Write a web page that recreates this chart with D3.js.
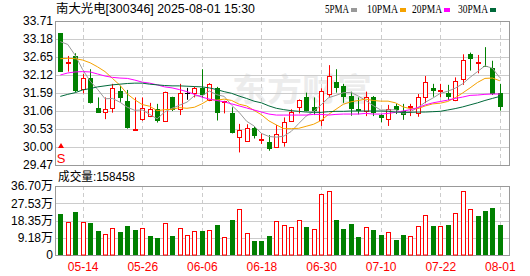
<!DOCTYPE html>
<html>
<head>
<meta charset="utf-8">
<script src="https://cdn.jsdelivr.net/npm/d3@7"></script>
<style>
body { margin: 0; background: #fff; }
text { font-family: "Liberation Sans", "Noto Sans CJK SC", sans-serif; }
</style>
</head>
<body>
<div id="kline_area"></div>
<script>
// trading days shown
const dates = ["05-09","05-12","05-13","05-14","05-15","05-16","05-19","05-20","05-21","05-22","05-23","05-26","05-27","05-28","05-29","05-30",
  "06-03","06-04","06-05","06-06","06-09","06-10","06-11","06-12","06-13","06-16","06-17","06-18","06-19","06-20","06-23","06-24","06-25","06-26","06-27","06-30",
  "07-01","07-02","07-03","07-04","07-07","07-08","07-09","07-10","07-11","07-14","07-15","07-16","07-17","07-18","07-21","07-22","07-23","07-24","07-25","07-28","07-29","07-30","07-31",
  "08-01"];

const open  = [33.35,32.46,32.68,31.70,32.02,31.14,31.03,31.14,31.65,31.35,30.52,30.83,30.92,31.11,30.77,31.46,31.11,31.58,31.58,31.73,
  31.38,31.73,31.33,31.01,30.30,30.19,30.55,30.23,30.14,30.01,30.16,30.78,31.17,31.46,31.17,30.80,31.56,31.92,31.80,31.50,
  31.11,31.07,31.46,30.94,30.82,31.21,31.07,31.19,30.99,31.46,31.73,31.67,31.60,31.38,31.99,32.74,32.50,32.38,32.32,31.58];
const high  = [33.35,32.68,32.76,32.15,32.29,31.46,31.46,31.86,31.80,31.68,31.46,31.46,31.30,31.27,31.63,31.48,31.86,31.74,31.78,32.29,
  31.88,31.77,31.36,31.17,30.68,30.67,30.61,30.40,30.35,30.65,30.87,31.11,31.40,31.60,31.46,31.73,32.41,32.29,31.86,31.63,
  31.46,31.63,31.50,30.97,31.24,31.27,31.27,31.27,31.56,32.09,31.86,31.86,31.83,32.05,32.73,32.78,32.71,32.94,32.54,31.86];
const low   = [32.22,32.22,31.62,31.58,31.28,31.01,30.82,31.01,31.33,30.54,30.52,30.77,30.88,30.72,30.75,31.06,30.94,31.39,31.46,31.45,
  31.35,30.78,30.99,30.40,29.84,30.16,30.25,30.09,29.89,29.99,30.01,30.76,30.99,31.05,30.94,30.62,31.48,31.60,31.30,30.92,
  30.96,30.91,30.91,30.73,30.62,30.97,30.80,30.91,30.89,31.29,31.48,31.46,31.38,31.35,31.83,32.25,32.17,32.36,31.53,31.07];
const close = [32.22,32.51,31.65,32.02,31.30,31.01,31.11,31.73,31.45,30.57,30.54,31.14,31.11,30.77,31.61,31.09,31.58,31.58,31.73,31.53,
  31.85,31.01,31.35,30.40,30.50,30.55,30.32,30.25,29.94,30.37,30.73,31.02,31.38,31.07,31.07,31.65,32.09,31.73,31.48,31.11,
  31.07,31.46,30.99,30.84,31.11,31.09,30.94,31.21,31.46,31.92,31.65,31.68,31.48,31.94,32.56,32.59,32.51,32.36,31.56,31.19];

// volume, unit 万
const volume = [21.8,17.4,22.9,17.4,17.0,12.8,11.0,14.2,12.2,15.4,13.3,14.2,10.1,9.0,16.8,10.1,14.2,10.5,12.6,12.8,
  13.1,16.0,9.4,18.6,24.3,11.5,7.4,7.4,10.1,17.9,15.9,14.7,18.4,14.9,13.7,32.3,33.9,18.6,13.8,16.5,
  9.6,14.7,13.3,10.6,12.1,8.0,10.6,9.9,15.3,21.1,15.4,15.4,16.0,22.2,33.9,24.3,20.7,23.4,25.0,15.85];

// moving averages
const ma5  = [33.10,33.02,32.70,32.28,31.94,31.70,31.42,31.43,31.32,31.17,31.08,31.09,30.96,30.83,31.03,31.14,31.23,31.32,31.51,31.50,
  31.65,31.54,31.49,31.23,31.02,30.76,30.62,30.40,30.31,30.29,30.32,30.46,30.69,30.91,31.05,31.24,31.45,31.52,31.60,31.61,
  31.50,31.37,31.22,31.09,31.09,31.10,30.99,31.04,31.16,31.32,31.44,31.58,31.64,31.73,31.86,32.05,32.22,32.39,32.32,32.04];
const ma10 = [32.60,32.61,32.60,32.56,32.48,32.36,32.22,32.02,31.82,31.56,31.39,31.25,31.20,31.07,31.10,31.11,31.16,31.14,31.17,31.27,
  31.40,31.38,31.41,31.37,31.26,31.21,31.08,30.95,30.77,30.65,30.54,30.54,30.55,30.61,30.67,30.78,30.96,31.11,31.26,31.33,
  31.37,31.41,31.37,31.35,31.35,31.30,31.18,31.13,31.13,31.21,31.27,31.29,31.34,31.45,31.59,31.74,31.90,32.02,32.03,31.95];
const ma20 = [32.12,32.18,32.21,32.22,32.21,32.15,32.09,32.05,32.03,32.02,31.97,31.91,31.88,31.83,31.77,31.74,31.69,31.63,31.55,31.47,
  31.41,31.37,31.33,31.27,31.21,31.15,31.09,31.03,30.97,30.94,30.94,30.94,30.94,30.94,30.96,30.96,30.94,30.96,30.97,30.97,
  30.97,30.99,30.97,30.97,30.99,31.02,31.06,31.10,31.16,31.24,31.30,31.34,31.38,31.43,31.47,31.52,31.53,31.55,31.56,31.56];
const ma30 = [31.49,31.55,31.60,31.68,31.72,31.77,31.80,31.83,31.85,31.87,31.88,31.88,31.85,31.83,31.81,31.80,31.80,31.79,31.78,31.77,
  31.74,31.69,31.63,31.58,31.50,31.43,31.35,31.30,31.21,31.14,31.10,31.07,31.05,31.03,31.02,31.02,31.04,31.05,31.05,31.06,
  31.06,31.06,31.06,31.06,31.05,31.03,31.02,31.02,31.03,31.03,31.04,31.05,31.09,31.13,31.18,31.24,31.30,31.37,31.43,31.49];

const priceTicks = [29.47, 30.00, 30.53, 31.06, 31.59, 32.12, 32.65, 33.18, 33.71];
const volTicks = [0, 9.175, 18.35, 27.525, 36.70];
const volTickLabels = ["0", "9.18万", "18.35万", "27.53万", "36.70万"];
const dateTicks = ["05-14","05-26","06-06","06-18","06-30","07-10","07-22","08-01"];

const maNames = ["5PMA", "10PMA", "20PMA", "30PMA"];
const maColors = ["#999999", "#f5a200", "#ff00ff", "#00693a"];

var width = 530, height = 276;
var left = 56, right = 509;
var pTop = 21, pBottom = 165, vTop = 186, vBottom = 255;
var red = "#ff0000", green = "#008000";

const svg = d3.select("#kline_area")
  .append("svg")
  .attr("width", width)
  .attr("height", height);

// scales
const x = d3.scalePoint().domain(dates).range([60.3, 499.85]);
const y = d3.scaleLinear().domain([29.47, 33.71]).range([pBottom, pTop]);
const yv = d3.scaleLinear().domain([0, 36.70]).range([vBottom, vTop]);
const cx = d => Math.round(x(d));

// watermark
svg.append("text")
  .attr("x", 232).attr("y", 101)
  .attr("textLength", 140)
  .attr("lengthAdjust", "spacingAndGlyphs")
  .style("font-family", "Noto Sans CJK SC")
  .style("font-size", "32px")
  .style("font-weight", "bold")
  .style("fill", "#ececec")
  .text("东方财富");

// panels: grid + frame
function panel(y0, y1, scale, ticks) {
  const g = svg.append("g");
  g.selectAll(".h").data(ticks).join("line")
    .attr("x1", left).attr("x2", right)
    .attr("y1", d => Math.round(scale(d)) + 0.5).attr("y2", d => Math.round(scale(d)) + 0.5)
    .style("stroke", "#cccccc");
  g.selectAll(".v").data(dateTicks).join("line")
    .attr("x1", d => cx(d) + 0.5).attr("x2", d => cx(d) + 0.5)
    .attr("y1", y0).attr("y2", y1)
    .style("stroke", "#cccccc")
    .style("stroke-dasharray", "4,3");
  g.append("rect")
    .attr("x", left - 0.5).attr("y", y0 + 0.5)
    .attr("width", right - left + 1).attr("height", y1 - y0)
    .style("fill", "none").style("stroke", "#999999");
}
panel(pTop, pBottom, y, priceTicks);
panel(vTop, vBottom, yv, volTicks);

// Y axis labels
svg.append("g")
  .attr("transform", `translate(${left - 3}, 0)`)
  .call(d3.axisLeft(y).tickValues(priceTicks).tickFormat(d3.format(".2f")).tickSize(0))
  .call(g => g.select(".domain").remove())
  .selectAll("text").style("font-size", "12px").style("fill", "#000").attr("x", 0);

svg.append("g")
  .attr("transform", `translate(${left - 3}, 0)`)
  .call(d3.axisLeft(yv).tickValues(volTicks).tickFormat((d, i) => volTickLabels[i]).tickSize(0))
  .call(g => g.select(".domain").remove())
  .selectAll("text").style("font-size", "12px").style("fill", "#000").attr("x", 0);

// X axis labels
svg.append("g")
  .attr("transform", `translate(0, ${vBottom + 4})`)
  .call(d3.axisBottom(x).tickValues(dateTicks).tickSize(0))
  .call(g => g.select(".domain").remove())
  .selectAll("text").style("font-size", "12px").style("fill", red);

// candles
const idx = d3.range(dates.length);
const dirColor = i => close[i] > open[i] ? red : (close[i] < open[i] ? green : "#000");

const candle = svg.append("g").selectAll("g").data(idx).join("g");
candle.append("line")
  .attr("x1", i => cx(dates[i]) + 0.5).attr("x2", i => cx(dates[i]) + 0.5)
  .attr("y1", i => y(high[i])).attr("y2", i => y(low[i]))
  .style("stroke", dirColor);
candle.append("rect")
  .attr("x", i => close[i] > open[i] ? cx(dates[i]) - 1.5 : cx(dates[i]) - 2)
  .attr("width", i => close[i] > open[i] ? 4 : 5)
  .attr("y", i => close[i] > open[i] ? Math.round(y(close[i])) + 0.5 : Math.round(y(Math.max(open[i], close[i]))))
  .attr("height", i => {
    const h = Math.round(y(Math.min(open[i], close[i]))) - Math.round(y(Math.max(open[i], close[i])));
    return close[i] > open[i] ? Math.max(h, 1) : Math.max(h, 1);
  })
  .style("fill", i => close[i] > open[i] ? "#fff" : dirColor(i))
  .style("stroke", i => close[i] > open[i] ? red : "none");

// moving averages
const maData = [ma5, ma10, ma20, ma30];
maData.forEach((m, k) => {
  svg.append("path")
    .datum(idx)
    .attr("d", d3.line().x(i => x(dates[i])).y(i => y(m[i])))
    .style("fill", "none")
    .style("stroke", maColors[k])
    .style("stroke-width", 1);
});

// volume bars (colour by change vs previous close)
const volUp = i => i === 0 ? close[0] >= open[0] : close[i] >= close[i - 1];
svg.append("g").selectAll("rect").data(idx).join("rect")
  .attr("x", i => volUp(i) ? cx(dates[i]) - 1.5 : cx(dates[i]) - 2)
  .attr("width", i => volUp(i) ? 4 : 5)
  .attr("y", i => volUp(i) ? Math.round(yv(volume[i])) + 0.5 : Math.round(yv(volume[i])))
  .attr("height", i => volUp(i) ? vBottom - Math.round(yv(volume[i])) - 0.5 : vBottom - Math.round(yv(volume[i])))
  .style("fill", i => volUp(i) ? "#fff" : green)
  .style("stroke", i => volUp(i) ? red : "none");

// buy marker
svg.append("path")
  .attr("d", "M61,143 L58,148 L64,148 Z")
  .style("fill", red);
svg.append("text")
  .attr("x", 61).attr("y", 163)
  .attr("text-anchor", "middle")
  .style("font-size", "13px")
  .style("fill", red)
  .text("S");

// title
svg.append("text")
  .attr("x", 56).attr("y", 13)
  .attr("textLength", 199)
  .attr("lengthAdjust", "spacingAndGlyphs")
  .style("font-size", "12px")
  .style("fill", "#000")
  .text("南大光电[300346] 2025-08-01 15:30");

// volume title
svg.append("text")
  .attr("x", 58).attr("y", 181)
  .attr("textLength", 77)
  .attr("lengthAdjust", "spacingAndGlyphs")
  .style("font-size", "12px")
  .style("fill", "#000")
  .text("成交量:158458");

// legend
const legendX = [325, 367, 412, 458];
const legendW = [24, 31, 30, 30];
const leg = svg.append("g").selectAll("g").data(maNames).join("g");
leg.append("text")
  .attr("x", (d, i) => legendX[i]).attr("y", 13)
  .attr("textLength", (d, i) => legendW[i])
  .attr("lengthAdjust", "spacingAndGlyphs")
  .style("font-family", "Liberation Serif")
  .style("font-size", "12px")
  .style("fill", "#000")
  .text(d => d);
leg.append("rect")
  .attr("x", (d, i) => legendX[i] + legendW[i] + 2).attr("y", 8)
  .attr("width", 6).attr("height", 4)
  .style("fill", (d, i) => maColors[i]);
</script>
</body>
</html>
